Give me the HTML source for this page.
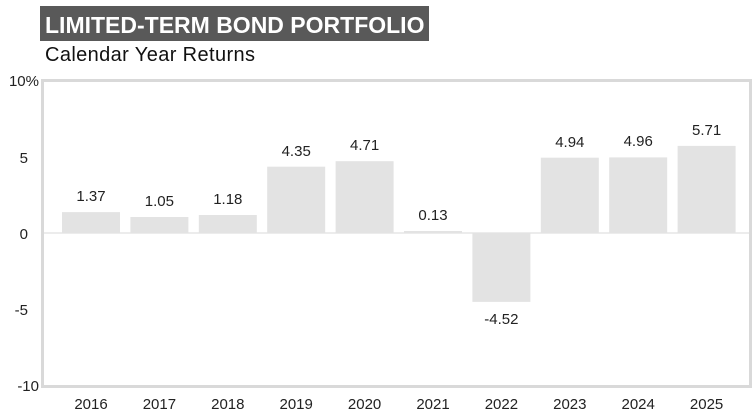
<!DOCTYPE html>
<html><head><style>
body{margin:0;background:#fff;width:754px;height:410px;overflow:hidden;font-family:"Liberation Sans",sans-serif}
</style></head><body>
<svg width="754" height="410" xmlns="http://www.w3.org/2000/svg" font-family="Liberation Sans, sans-serif">
<rect x="40" y="6" width="389" height="35" fill="#595959"/>
<text x="45" y="33" font-size="23" font-weight="bold" fill="#fff">LIMITED-TERM BOND PORTFOLIO</text>
<text x="45" y="61" font-size="20" fill="#111" textLength="210">Calendar Year Returns</text>
<rect x="42.5" y="80.5" width="708" height="306" fill="#fff" stroke="#d9d9d9" stroke-width="3"/>
<line x1="44" y1="233" x2="749" y2="233" stroke="#d9d9d9" stroke-width="1"/>
<g font-size="15" fill="#222" text-anchor="end">
<text x="39" y="86">10%</text>
<text x="28" y="163">5</text>
<text x="28" y="239">0</text>
<text x="28" y="315">-5</text>
<text x="39" y="391">-10</text>
</g>
<g fill="#e3e3e3">
<rect x="62" y="212.1" width="58" height="20.9"/>
<rect x="130.4" y="217" width="58" height="16"/>
<rect x="198.8" y="215" width="58" height="18"/>
<rect x="267.2" y="166.7" width="58" height="66.3"/>
<rect x="335.6" y="161.2" width="58" height="71.8"/>
<rect x="404" y="231" width="58" height="2"/>
<rect x="472.4" y="233" width="58" height="68.9"/>
<rect x="540.8" y="157.7" width="58" height="75.3"/>
<rect x="609.2" y="157.4" width="58" height="75.6"/>
<rect x="677.6" y="145.9" width="58" height="87.1"/>
</g>
<g font-size="15" fill="#222" text-anchor="middle">
<text x="91" y="201">1.37</text>
<text x="159.4" y="206">1.05</text>
<text x="227.8" y="204">1.18</text>
<text x="296.2" y="156">4.35</text>
<text x="364.6" y="150">4.71</text>
<text x="433" y="220">0.13</text>
<text x="501.4" y="324">-4.52</text>
<text x="569.8" y="147">4.94</text>
<text x="638.2" y="146">4.96</text>
<text x="706.6" y="135">5.71</text>
</g>
<g font-size="15" fill="#222" text-anchor="middle">
<text x="91" y="409">2016</text>
<text x="159.4" y="409">2017</text>
<text x="227.8" y="409">2018</text>
<text x="296.2" y="409">2019</text>
<text x="364.6" y="409">2020</text>
<text x="433" y="409">2021</text>
<text x="501.4" y="409">2022</text>
<text x="569.8" y="409">2023</text>
<text x="638.2" y="409">2024</text>
<text x="706.6" y="409">2025</text>
</g>
</svg>
</body></html>
